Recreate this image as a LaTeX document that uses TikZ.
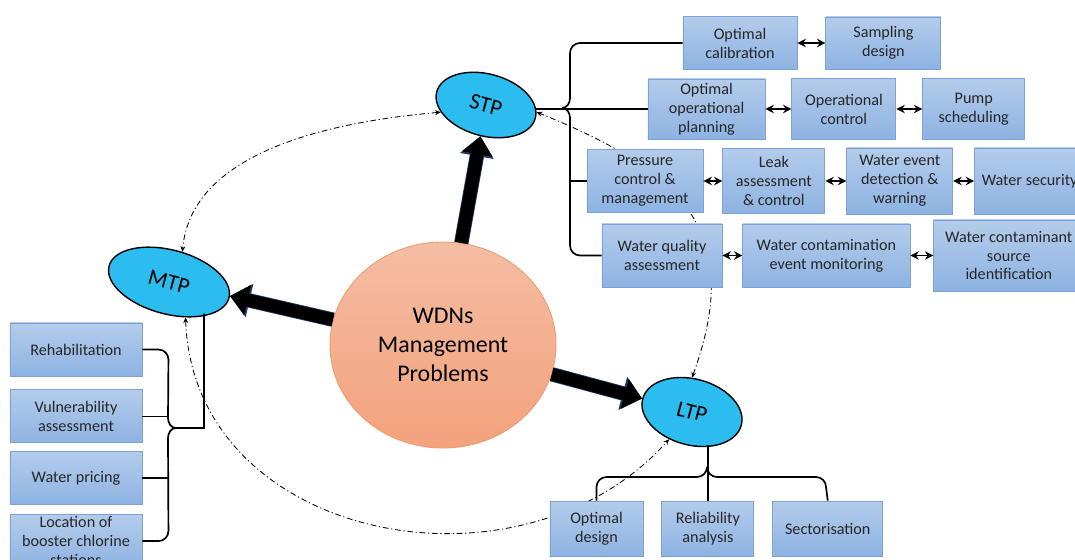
\documentclass[tikz,border=0pt]{standalone}
\usepackage{fontspec}
\setmainfont{Carlito}
\usetikzlibrary{arrows.meta}
\usetikzlibrary{positioning}
\usetikzlibrary{shapes}

\definecolor{boxtop}{HTML}{B4CCEB}
\definecolor{boxbot}{HTML}{8DB3E2}
\definecolor{boxline}{HTML}{7BA3D8}
\definecolor{ellfill}{HTML}{2BBCF0}
\definecolor{hubtop}{HTML}{F4BDA3}
\definecolor{hubbot}{HTML}{F3A27C}
\definecolor{hubline}{HTML}{EE9B6C}
\definecolor{navy}{HTML}{1F3864}

\tikzset{
  task/.style={draw=boxline, line width=0.6pt, top color=boxtop, bottom color=boxbot,
    align=center, inner sep=1pt, text=black!85, font=\fontsize{11.5}{13.5}\selectfont},
  term/.style={ellipse, draw=black, line width=1pt, fill=ellfill, rotate=-15,
    minimum width=2.55cm, minimum height=1.55cm, inner sep=0pt,
    font=\fontsize{16}{18}\selectfont},
  bigarrow/.style={line width=0.32cm, -{Triangle[length=0.45cm,width=0.75cm]},
    preaction={draw=navy, line width=0.36cm, -{Triangle[length=0.5cm,width=0.82cm]}}},
  dbl/.style={line width=1.2pt, {Stealth[length=6pt,width=6pt]}-{Stealth[length=6pt,width=6pt]}},
  bracket/.style={line width=1.2pt},
  recur/.style={line width=0.6pt, dash pattern=on 4pt off 2pt on 0.8pt off 2pt,
    {Stealth[length=4pt,width=3.5pt]}-{Stealth[length=4pt,width=3.5pt]}},
}

\begin{document}
\begin{tikzpicture}[x=0.025cm, y=-0.025cm]
    \clip (0,0) rectangle (1075,559);

    \node (hub) [ellipse, draw=hubline, line width=0.6pt, top color=hubtop, bottom color=hubbot,
      minimum width=5.65cm, minimum height=5.15cm, align=center,
      font=\fontsize{17}{20.6}\selectfont] at (443,345) {WDNs\\Management\\Problems};

    \node (stp) [term] at (486,105) {STP};
    \node (mtp) [term, minimum width=3.1cm, minimum height=1.6cm] at (169,282) {MTP};
    \node (ltp) [term, minimum height=1.65cm] at (692,412) {LTP};

    \draw [bigarrow] (hub) -- (stp);
    \draw [bigarrow] (hub) -- (mtp);
    \draw [bigarrow] (hub) -- (ltp);

    \draw [recur] (stp.204) to[out=185, in=85, looseness=0.9] (mtp.81);
    \draw [recur] (mtp.-50) to[out=272, in=228, looseness=1.15] (ltp.245);
    \draw [recur] (ltp.105) to[out=70, in=-22, looseness=1.3] (stp.7);

    % short term
    \node (calib) [task, minimum width=2.85cm, minimum height=1.325cm] at (740,43) {Optimal\\calibration};
    \node (sampl) [task, minimum width=2.875cm, minimum height=1.3cm, right=0.7cm of calib] {Sampling\\design};

    \node (oplan) [task, minimum width=2.925cm, minimum height=1.5cm] at (706.5,109) {Optimal\\operational\\planning};
    \node (opctrl) [task, minimum width=2.6cm, minimum height=1.525cm, right=0.65cm of oplan] {Operational\\control};
    \node (pump) [task, minimum width=2.55cm, minimum height=1.525cm, right=0.65cm of opctrl] {Pump\\scheduling};

    \node (press) [task, minimum width=2.9cm, minimum height=1.575cm] at (645,181) {Pressure\\control \&\\management};
    \node (leak) [task, minimum width=2.55cm, minimum height=1.625cm, right=0.475cm of press] {Leak\\assessment\\\& control};
    \node (event) [task, minimum width=2.65cm, minimum height=1.65cm, right=0.525cm of leak] {Water event\\detection \&\\warning};
    \node (secur) [task, minimum width=2.75cm, minimum height=1.65cm, right=0.525cm of event] {Water security};

    \node (wq) [task, minimum width=3cm, minimum height=1.575cm] at (662,255.5) {Water quality\\assessment};
    \node (contam) [task, minimum width=4.175cm, minimum height=1.575cm, right=0.5cm of wq] {Water contamination\\event monitoring};
    \node (source) [task, minimum width=3.75cm, minimum height=1.775cm, right=0.575cm of contam] {Water contaminant\\source\\identification};

    \path [dbl] (calib) edge (sampl);
    \path [dbl] (oplan) edge (opctrl);
    \path [dbl] (opctrl) edge (pump);
    \path [dbl] (press) edge (leak);
    \path [dbl] (leak) edge (event);
    \path [dbl] (event) edge (secur);
    \path [dbl] (wq) edge (contam);
    \path [dbl] (contam) edge (source);

    \coordinate (sx) at (570,108);
    \draw [bracket] (calib.west) -- (580,43) to[out=180,in=90] (570,53) -- (570,98) to[out=270,in=0] (562,108);
    \draw [bracket] (wq.west) -- (580,255.5) to[out=180,in=270] (570,245.5) -- (570,118) to[out=90,in=0] (562,108);
    \draw [bracket] (oplan.west) -- (oplan.west -| stp.east);
    \draw [bracket] (press.west) -- (press.west -| sx);

    % medium term
    \node (rehab) [task, minimum width=3.3cm, minimum height=1.325cm] at (76,349.5) {Rehabilitation};
    \node (vuln) [task, minimum width=3.3cm, minimum height=1.325cm, below=0.325cm of rehab] {Vulnerability\\assessment};
    \node (price) [task, minimum width=3.3cm, minimum height=1.325cm, below=0.2cm of vuln] {Water pricing};
    \node (loc) [task, minimum width=3.3cm, minimum height=1.325cm, below=0.225cm of price] {Location of\\booster chlorine\\stations};

    \coordinate (lx) at (168,428);
    \coordinate (mb) at (204,428);
    \draw [bracket] (rehab.east) -- ++(16,0) to[out=0,in=90] ++(10,10) -- (168,418) to[out=270,in=180] (176,428) -- (mb) -- (mb |- mtp.south);
    \draw [bracket] (loc.east) -- ++(16,0) to[out=0,in=270] ++(10,-10) -- (168,438) to[out=90,in=180] (176,428);
    \draw [bracket] (vuln.east) -- (vuln.east -| lx);
    \draw [bracket] (price.east) -- (price.east -| lx);

    % long term
    \node (odes) [task, minimum width=2.325cm, minimum height=1.375cm] at (596.5,528.5) {Optimal\\design};
    \node (reliab) [task, minimum width=2.3cm, minimum height=1.375cm, right=0.45cm of odes] {Reliability\\analysis};
    \node (sect) [task, minimum width=2.75cm, minimum height=1.375cm, right=0.45cm of reliab] {Sectorisation};

    \draw [bracket] (odes.north) -- (596.5,487) to[out=90,in=180] (606.5,477) -- (697,477) to[out=0,in=270] (707,467);
    \draw [bracket] (sect.north) -- (826,487) to[out=90,in=0] (816,477) -- (717,477) to[out=180,in=270] (707,467);
    \draw [bracket] (reliab.north) -- (reliab.north |- ltp.south);
\end{tikzpicture}
\end{document}
